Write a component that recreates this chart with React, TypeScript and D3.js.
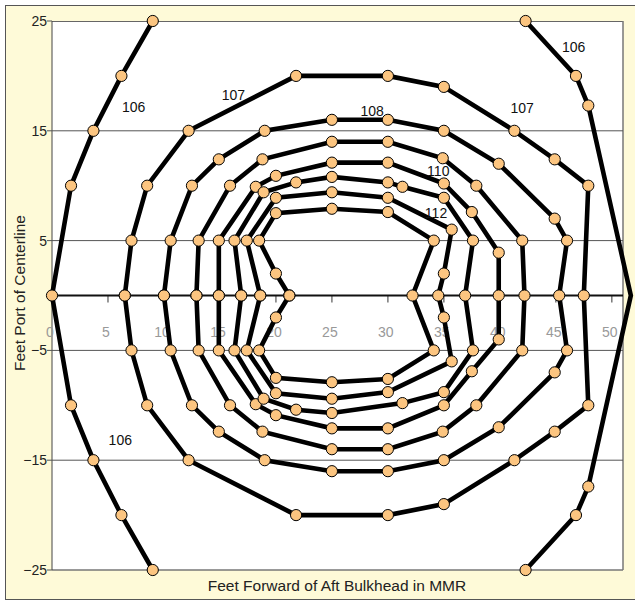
import React from "react";
import * as d3 from "d3";

type Pt = [number, number];

// digitized contours (feet forward, feet port); 106 is two open arcs
const c106Left: Pt[] = [[9.0, 25], [6.2, 20], [3.7, 15], [1.7, 10], [0, 0], [1.7, -10], [3.7, -15], [6.2, -20], [9.0, -25]];
const c106Right: Pt[] = [[42.3, 25], [46.8, 20], [47.9, 17.3], [51.7, 0], [47.9, -17.4], [46.8, -20], [42.3, -25]];
const c107: Pt[] = [[6.5, 0], [7.1, 5], [8.5, 10], [12.2, 15], [21.8, 20], [30, 20], [35, 19], [41.3, 15], [44.9, 12.4], [47.9, 10], [47.5, 0], [47.9, -10], [44.9, -12.4], [41.3, -15], [35, -19], [30, -20], [21.8, -20], [12.2, -15], [8.5, -10], [7.1, -5], [6.5, 0]];
const c108: Pt[] = [[10, 0], [10.6, 5], [12.5, 10], [14.9, 12.4], [19, 15], [25, 16], [30, 16], [35, 15], [39.9, 12], [44.9, 7], [46, 5], [45.3, 0], [46, -5], [44.9, -7], [39.9, -12], [35, -15], [30, -16], [25, -16], [19, -15], [14.9, -12.4], [12.5, -10], [10.6, -5], [10, 0]];
const c109: Pt[] = [[12.9, 0], [13.1, 5], [15.9, 10], [18.8, 12.4], [25, 14], [30, 14], [34.9, 12.5], [37.9, 10], [42, 5], [42.2, 0], [42, -5], [37.9, -10], [34.9, -12.4], [30, -14], [25, -14], [18.8, -12.4], [15.9, -10], [13.1, -5], [12.9, 0]];
const c110: Pt[] = [[14.9, 0], [14.9, 5], [18.2, 9.9], [20, 10.9], [25, 12.1], [30, 12.1], [35, 10.2], [37.5, 7.6], [39.9, 3.9], [39.9, 0], [39.9, -4], [37.5, -6.9], [35, -10], [30, -12.1], [25, -12.1], [20, -10.9], [18.2, -9.9], [14.9, -5], [14.9, 0]];
const c111: Pt[] = [[16.9, 0], [16.3, 5], [18.9, 9.4], [21.8, 10.3], [25, 10.8], [30, 10.3], [31.3, 9.9], [35, 8.9], [37.6, 5], [36.9, 0], [37.6, -5], [35, -8.8], [31.3, -9.8], [25, -10.7], [21.8, -10.4], [18.9, -9.4], [16.3, -5], [16.9, 0]];
const c112: Pt[] = [[18.6, 0], [17.4, 5], [20, 8.9], [25, 9.4], [30, 8.9], [35.7, 6], [35, 2], [34.5, 0], [35, -2], [35.7, -6], [30, -8.8], [25, -9.4], [20, -8.9], [17.4, -5], [18.6, 0]];
const c113: Pt[] = [[21.2, 0], [20, 2], [18.5, 5], [20, 7.5], [25, 7.9], [30, 7.6], [34.1, 5], [32.2, 0], [34.1, -5], [30, -7.6], [25, -7.9], [20, -7.5], [18.5, -5], [20, -2], [21.2, 0]];

const contours = [c106Left, c106Right, c107, c108, c109, c110, c111, c112, c113];

const labelText = ["106", "107", "108", "107", "106", "110", "112", "106"];
const labelPos: Pt[] = [[7.3, 17.2], [16.2, 18.3], [28.6, 16.8], [42.0, 17.1], [46.6, 22.6], [34.5, 11.3], [34.3, 7.5], [6.1, -13.2]];

const xTicks = d3.range(0, 51, 5);
const yTicks = [25, 15, 5, -5, -15, -25];
const gridY = [15, 5, -5, -15];

const W = 637;
const H = 601;
const font = "'Liberation Sans', Arial, Helvetica, sans-serif";

export default function App() {
  const left = 52, right = 623, top = 21, bottom = 570;
  const x = d3.scaleLinear().domain([0, 51]).range([left, right]);
  const y = d3.scaleLinear().domain([-25, 25]).range([bottom, top]);
  const line = d3.line<Pt>().x((d) => x(d[0])).y((d) => y(d[1]));

  return (
    <svg width={W} height={H} style={{ position: "absolute", left: 0, top: 0 }} fontFamily={font}>
      <rect x={5.5} y={5.5} width={640} height={594} fill="#fefad8" stroke="#555" />
      <rect x={left} y={top} width={right - left} height={bottom - top} fill="#fff" />
      {/* plot frame */}
      <line x1={left} x2={right} y1={top + 0.5} y2={top + 0.5} stroke="#666" />
      <line x1={right} x2={right} y1={top} y2={bottom} stroke="#777" strokeWidth={1.5} />
      <line x1={left} x2={right} y1={bottom} y2={bottom} stroke="#777" strokeWidth={1.5} />
      <line x1={left} x2={left} y1={top} y2={bottom} stroke="#444" />
      {gridY.map((v) => (
        <line key={v} x1={left} x2={right} y1={y(v)} y2={y(v)} stroke="#555" strokeWidth={1} />
      ))}
      {yTicks.map((v) => (
        <g key={v}>
          <line x1={left - 5} x2={left} y1={y(v)} y2={y(v)} stroke="#555" />
          <text x={left - 5} y={y(v) + 5} textAnchor="end" fontSize={14} fill="#222">
            {v < 0 ? "\u2212" + Math.abs(v) : v}
          </text>
        </g>
      ))}
      {xTicks.map((v) => (
        <g key={v}>
          <line x1={x(v)} x2={x(v)} y1={y(0)} y2={y(0) + 7} stroke="#777" strokeWidth={1.5} />
          <text x={x(v) - 2} y={y(0) + 41} textAnchor="middle" fontSize={14} fill="#999">
            {v}
          </text>
        </g>
      ))}
      <line x1={left} x2={right} y1={y(0)} y2={y(0)} stroke="#111" strokeWidth={2} />

      {contours.map((c, i) => (
        <path key={i} d={line(c) ?? ""} fill="none" stroke="#000" strokeWidth={4.6} />
      ))}
      {contours.map((c, i) => (
        <g key={i}>
          {c
            .filter((p) => p[0] <= 51)
            .map((p, j) => (
              <circle key={j} cx={x(p[0])} cy={y(p[1])} r={5.6} fill="#fcc580" stroke="#000" strokeWidth={1} />
            ))}
        </g>
      ))}
      {labelText.map((t, i) => (
        <text key={i} x={x(labelPos[i][0])} y={y(labelPos[i][1]) + 5} textAnchor="middle" fontSize={14} fill="#111">
          {t}
        </text>
      ))}

      <text x={337} y={591} textAnchor="middle" fontSize={15.5} fill="#222">
        Feet Forward of Aft Bulkhead in MMR
      </text>
      <text transform={`translate(25,293) rotate(-90)`} textAnchor="middle" fontSize={15.5} fill="#222">
        Feet Port of Centerline
      </text>
    </svg>
  );
}
